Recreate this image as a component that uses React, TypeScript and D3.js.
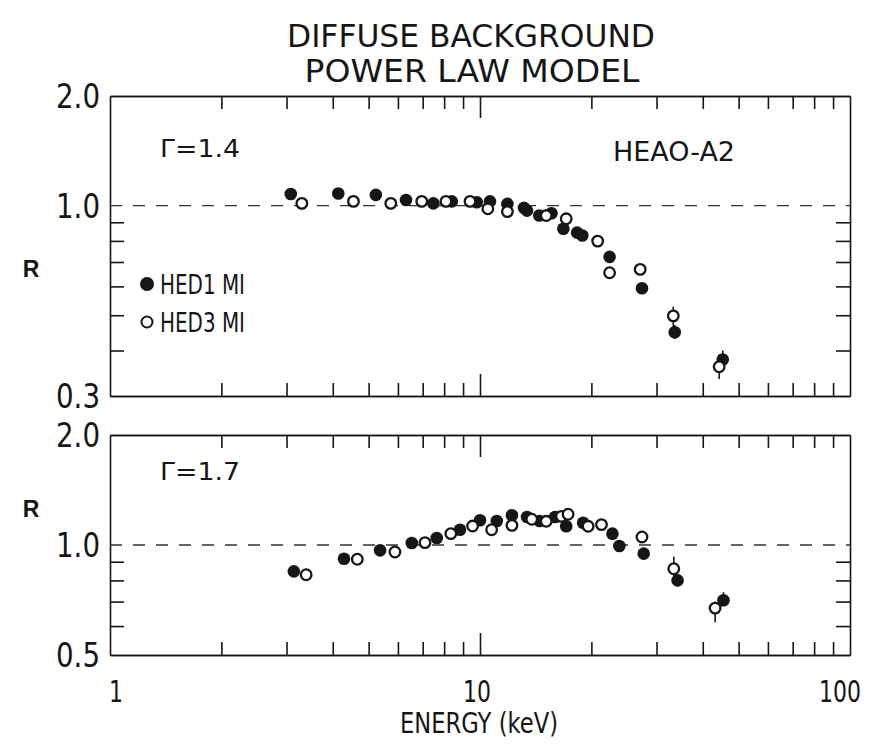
import React, { useEffect, useRef } from 'react';
import * as d3 from 'd3';

// energy axis (keV)
const energyMinor = [2, 3, 4, 5, 6, 7, 8, 9, 20, 30, 40, 50, 60, 70, 80, 90];
const energyMajor = [10];
const energyLabels = [1, 10, 100];

// ratio axes
const topRatioTicks = [0.4, 0.5, 0.6, 0.7, 0.8, 0.9];
const bottomRatioTicks = [0.6, 0.7, 0.8, 0.9];
const topRatioLabels = [2.0, 1.0, 0.3];
const bottomRatioLabels = [2.0, 1.0, 0.5];

// Gamma = 1.4  [energy, R]
const hed1Top: [number, number][] = [
  [3.08, 1.076], [4.14, 1.08], [5.23, 1.07], [6.31, 1.036], [7.48, 1.014],
  [8.39, 1.027], [9.8, 1.021], [10.64, 1.027], [11.86, 1.011], [13.15, 0.986],
  [13.4, 0.969], [14.46, 0.939], [15.6, 0.953], [16.8, 0.864], [18.3, 0.843],
  [18.9, 0.828], [22.4, 0.723], [27.4, 0.593], [33.6, 0.449], [45.3, 0.378],
];
const hed3Top: [number, number][] = [
  [3.3, 1.014], [4.55, 1.027], [5.74, 1.014], [6.96, 1.027], [8.09, 1.027],
  [9.4, 1.027], [10.5, 0.98], [11.86, 0.963], [15.1, 0.939], [17.1, 0.92],
  [20.8, 0.799], [22.4, 0.654], [27.1, 0.668], [33.3, 0.498], [44.3, 0.361],
];
// [energy, low, high]
const errTop: [number, number, number][] = [
  [33.3, 0.438, 0.528], [33.6, 0.43, 0.47], [44.3, 0.334, 0.39], [45.3, 0.36, 0.4],
];

// Gamma = 1.7
const hed1Bottom: [number, number][] = [
  [3.14, 0.847], [4.29, 0.917], [5.37, 0.967], [6.54, 1.013], [7.64, 1.045],
  [8.83, 1.101], [10.0, 1.169], [11.1, 1.163], [12.2, 1.206], [13.4, 1.193],
  [14.5, 1.163], [15.95, 1.193], [17.1, 1.125], [19.0, 1.151], [22.8, 1.074],
  [23.8, 0.994], [27.7, 0.947], [34.2, 0.8], [45.5, 0.706],
];
const hed3Bottom: [number, number][] = [
  [3.39, 0.829], [4.66, 0.914], [5.89, 0.957], [7.1, 1.015], [8.34, 1.074],
  [9.55, 1.127], [10.75, 1.101], [12.2, 1.132], [13.8, 1.176], [15.1, 1.161],
  [16.6, 1.198], [17.3, 1.214], [19.6, 1.125], [21.3, 1.137], [27.4, 1.052],
  [33.4, 0.861], [43.2, 0.672],
];
const errBottom: [number, number, number][] = [
  [33.4, 0.8, 0.93], [34.2, 0.77, 0.83], [43.2, 0.615, 0.7], [45.5, 0.68, 0.743],
];

const FONT = "'Liberation Sans Narrow', 'DejaVu Sans Condensed', 'Liberation Sans', sans-serif";
const INK = '#161616';

export default function App() {
  const ref = useRef<SVGSVGElement>(null);

  useEffect(() => {
    const svg = d3.select(ref.current);
    svg.selectAll('*').remove();

    const x = d3.scaleLog().domain([1, 100]).range([110, 850]);

    const panels = [
      {
        y: d3.scaleLog().domain([0.3, 2]).range([396, 96]),
        ticks: topRatioTicks, labels: topRatioLabels,
        filled: hed1Top, open: hed3Top, err: errTop,
        gamma: 'Γ=1.4', gammaY: 157, rY: 277,
      },
      {
        y: d3.scaleLog().domain([0.5, 2]).range([655, 435]),
        ticks: bottomRatioTicks, labels: bottomRatioLabels,
        filled: hed1Bottom, open: hed3Bottom, err: errBottom,
        gamma: 'Γ=1.7', gammaY: 480, rY: 517,
      },
    ];

    const text = (t: string, px: number, py: number, size: number, len: number, anchor = 'start') =>
      svg.append('text')
        .attr('x', px).attr('y', py)
        .attr('font-family', FONT)
        .attr('font-size', size)
        .attr('fill', INK)
        .attr('text-anchor', anchor)
        .attr('textLength', len)
        .attr('lengthAdjust', 'spacingAndGlyphs')
        .text(t);

    panels.forEach((p) => {
      const [yb, yt] = p.y.range();
      const g = svg.append('g');
      const blank = () => '';

      g.append('g').attr('transform', `translate(0,${yb})`)
        .call(d3.axisBottom(x).tickValues(energyMinor).tickSize(-13).tickSizeOuter(0).tickFormat(blank));
      g.append('g').attr('transform', `translate(0,${yb})`)
        .call(d3.axisBottom(x).tickValues(energyMajor).tickSize(-22).tickSizeOuter(0).tickFormat(blank));
      g.append('g').attr('transform', `translate(0,${yt})`)
        .call(d3.axisTop(x).tickValues(energyMinor).tickSize(-13).tickSizeOuter(0).tickFormat(blank));
      g.append('g').attr('transform', `translate(0,${yt})`)
        .call(d3.axisTop(x).tickValues(energyMajor).tickSize(-22).tickSizeOuter(0).tickFormat(blank));
      g.append('g').attr('transform', 'translate(110,0)')
        .call(d3.axisLeft(p.y).tickValues(p.ticks).tickSize(-14).tickSizeOuter(0).tickFormat(blank));
      g.append('g').attr('transform', 'translate(850,0)')
        .call(d3.axisRight(p.y).tickValues(p.ticks).tickSize(-14).tickSizeOuter(0).tickFormat(blank));
      g.selectAll('path, line').attr('stroke', INK).attr('stroke-width', 1.6);

      // reference line R = 1
      g.append('line')
        .attr('x1', 110).attr('x2', 850)
        .attr('y1', p.y(1)).attr('y2', p.y(1))
        .attr('stroke', '#333').attr('stroke-width', 1.4)
        .attr('stroke-dasharray', '12,11');

      g.selectAll('line.err').data(p.err).enter().append('line')
        .attr('class', 'err')
        .attr('x1', (d) => x(d[0])).attr('x2', (d) => x(d[0]))
        .attr('y1', (d) => p.y(d[1])).attr('y2', (d) => p.y(d[2]))
        .attr('stroke', INK).attr('stroke-width', 1.6);

      g.selectAll('circle.f').data(p.filled).enter().append('circle')
        .attr('class', 'f')
        .attr('cx', (d) => x(d[0])).attr('cy', (d) => p.y(d[1]))
        .attr('r', 6.3).attr('fill', INK);

      g.selectAll('circle.o').data(p.open).enter().append('circle')
        .attr('class', 'o')
        .attr('cx', (d) => x(d[0])).attr('cy', (d) => p.y(d[1]))
        .attr('r', 5.3).attr('fill', '#fff')
        .attr('stroke', INK).attr('stroke-width', 2.3);

      p.labels.forEach((v) => text(v.toFixed(1), 100, p.y(v) + 12, 33, 44, 'end'));
      text(p.gamma, 160, p.gammaY, 24, 80);
      svg.append('text')
        .attr('x', 31).attr('y', p.rY)
        .attr('font-family', "'Liberation Sans', sans-serif")
        .attr('font-weight', 'bold').attr('font-size', 23)
        .attr('fill', INK).attr('text-anchor', 'middle')
        .text('R');
    });

    // title
    text('DIFFUSE BACKGROUND', 471, 47, 32, 368, 'middle');
    text('POWER LAW MODEL', 472, 82, 32, 335, 'middle');
    text('HEAO-A2', 674, 161, 27, 122, 'middle');

    // legend
    svg.append('circle').attr('cx', 147).attr('cy', 284).attr('r', 7).attr('fill', INK);
    svg.append('circle').attr('cx', 147).attr('cy', 322).attr('r', 5.5)
      .attr('fill', '#fff').attr('stroke', INK).attr('stroke-width', 2);
    text('HED1 MI', 160, 294, 27, 85);
    text('HED3 MI', 160, 332, 27, 85);

    // energy labels
    energyLabels.forEach((e) => {
      const s = String(e);
      text(s, e === 100 ? x(e) - 10 : x(e) + (e === 1 ? 6 : -3), 702, 31, s.length * 14, 'middle');
    });
    text('ENERGY (keV)', 479, 733, 29, 158, 'middle');
  }, []);

  return (
    <svg
      ref={ref}
      width={880}
      height={747}
      style={{ position: 'absolute', left: 0, top: 0, display: 'block', background: '#fff' }}
    />
  );
}
